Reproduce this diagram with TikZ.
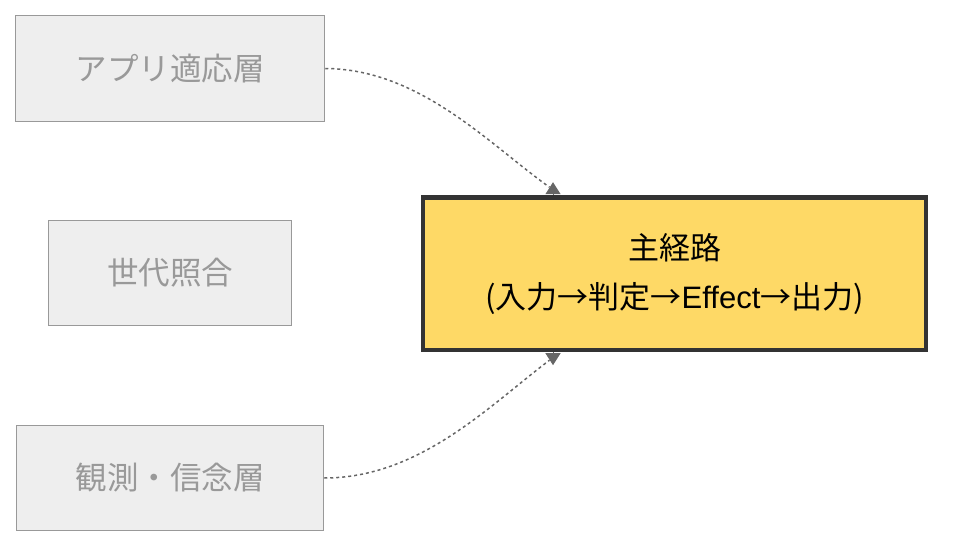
\documentclass[tikz,border=0pt]{standalone}
\usepackage{fontspec}
\setmainfont{Liberation Sans}
\newfontfamily\cjk{Noto Sans CJK JP}
\usetikzlibrary{arrows.meta}
\definecolor{grayfill}{HTML}{EEEEEE}
\definecolor{graydraw}{HTML}{999999}
\definecolor{graytext}{HTML}{999999}
\definecolor{mainfill}{HTML}{FED966}
\definecolor{maindraw}{HTML}{333333}
\definecolor{conncol}{HTML}{666666}
\tikzset{
  sidebox/.style={draw=graydraw, fill=grayfill, line width=1.5pt, text=graytext,
    font=\cjk\fontsize{31.5pt}{36pt}\selectfont, inner sep=0pt},
  mainbox/.style={draw=maindraw, fill=mainfill, line width=4.5pt, text=black,
    font=\fontsize{31pt}{49pt}\selectfont, align=center, inner sep=0pt,
    minimum width=503pt, minimum height=152.5pt},
  conn/.style={draw=conncol, line width=1.5pt, dash pattern=on 3pt off 3pt},
  conntip/.style={draw=conncol, line width=1pt,
    -{Triangle[length=12pt, width=15pt, fill=conncol]}},
}
\begin{document}
\begin{tikzpicture}[x=1pt,y=-1pt]
\useasboundingbox (0,0) rectangle (958,556);
\node[sidebox, minimum width=309pt, minimum height=106pt] (A) at (170,68.5) {アプリ適応層};
\node[sidebox, minimum width=243pt, minimum height=105pt] (B) at (170,273) {世代照合};
\node[sidebox, minimum width=307pt, minimum height=105pt] (C) at (170,478) {観測・信念層};
\node[mainbox] (M) at (674.5,273.7) {{\cjk 主経路}\\{\cjk (入力→判定→}Effect{\cjk →出力)}};
\draw[conn] (A.east) .. controls (420,69) and (490,145) .. ([xshift=-125pt,yshift=8pt]M.north);
\draw[conntip] ([xshift=-121.5pt]M.north) -- ([xshift=-121.5pt,yshift=13pt]M.north);
\draw[conn] (C.east) .. controls (420,478) and (490,405) .. ([xshift=-125pt,yshift=-8pt]M.south);
\draw[conntip] ([xshift=-121.5pt]M.south) -- ([xshift=-121.5pt,yshift=-13pt]M.south);
\end{tikzpicture}
\end{document}
